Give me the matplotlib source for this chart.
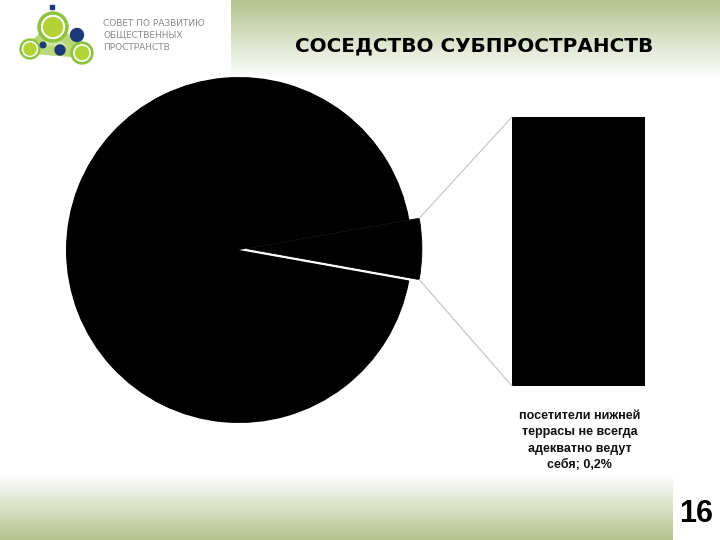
import numpy as np
import matplotlib
matplotlib.use("Agg")
import matplotlib.pyplot as plt
from matplotlib.patches import Circle, Rectangle, ConnectionPatch, Polygon

# ---- data ----
pie_labels = ["остальное", "прочее"]
pie_values = [94.4, 5.6]
bar_labels = ["посетители нижней\nтеррасы не всегда\nадекватно ведут\nсебя"]
bar_values = [5.6]
bar_pct = ["0,2%"]
title = "СОСЕДСТВО СУБПРОСТРАНСТВ"
logo_lines = ["СОВЕТ ПО РАЗВИТИЮ", "ОБЩЕСТВЕННЫХ", "ПРОСТРАНСТВ"]
page_no = "16"

W, H = 720, 540
fig = plt.figure(figsize=(7.2, 5.4), dpi=100)
fig.patch.set_facecolor("white")
ax = fig.add_axes([0, 0, 1, 1])
ax.set_axis_off()

green = np.array([179, 195, 142]) / 255.0
white = np.array([1.0, 1.0, 1.0])

def vgrad(top, bottom, n=200):
    t = np.linspace(0, 1, n)[:, None, None]
    return top[None, None, :] * (1 - t) + bottom[None, None, :] * t

# top band (gradient green -> white), y-up coordinates
ax.imshow(vgrad(green, white), extent=[231, W, H - 78, H], aspect="auto",
          interpolation="bilinear", zorder=0)
# bottom band (white -> green)
ax.imshow(vgrad(white, green), extent=[0, 673, 0, 66], aspect="auto",
          interpolation="bilinear", zorder=0)

def yd(y):  # convert y from top-down to y-up
    return H - y

# ---- logo ----
band = "#d3e5a8"
pts = [(53, 27), (30, 49), (82, 53)]
ax.add_patch(Polygon([(x, yd(y)) for x, y in pts], closed=True, color=band, zorder=2))
for (x1, y1), (x2, y2) in [(pts[0], pts[1]), (pts[0], pts[2]), (pts[1], pts[2])]:
    ax.plot([x1, x2], [yd(y1), yd(y2)], color="#bcd97a", lw=7, solid_capstyle="round", zorder=2)
for (cx, cy), ro, rw, ri in [((53, 27), 15, 11.5, 9.5), ((30, 49), 10, 7.5, 6),
                              ((82, 53), 11, 8.2, 6.6)]:
    ax.add_patch(Circle((cx, yd(cy)), ro, color="#8cc43f", zorder=3))
    ax.add_patch(Circle((cx, yd(cy)), rw, color="white", zorder=3))
    ax.add_patch(Circle((cx, yd(cy)), ri, color="#b2d235", zorder=3))
navy = "#1d3a78"
for (cx, cy), r in [((77, 35), 6.5), ((60, 50), 5), ((43, 45), 2.8)]:
    ax.add_patch(Circle((cx, yd(cy)), r, color=navy, zorder=3))
ax.add_patch(Rectangle((50, yd(9)), 4, 4, color=navy, zorder=3))
for i, line in enumerate(logo_lines):
    ax.text(103, yd(23 + 12 * i), line, fontsize=6.5, color="#8a8a8a",
            family="DejaVu Sans", va="center", ha="left", zorder=3)

# ---- title ----
ax.text(474, yd(46), title, fontsize=14.4, fontweight="bold", color="black",
        family="DejaVu Sans", ha="center", va="center", zorder=3)

# ---- page number ----
ax.text(696, yd(514), page_no, fontsize=22, fontweight="bold", color="black",
        family="Liberation Sans", ha="center", va="center", zorder=3)

# ---- pie ----
cx, cy, R = 239, yd(250), 173
wedges, _ = ax.pie(pie_values, colors=["black", "black"], startangle=10,
                   counterclock=True, center=(cx, cy), radius=R,
                   wedgeprops=dict(linewidth=0))
d, phi = 8, np.deg2rad(9.5)
small = wedges[1]
small.set_center((cx + d * np.cos(phi), cy + d * np.sin(phi)))
small.set_radius(R + 2)
small.set_edgecolor("black")
small.set_linewidth(0.6)
for w in wedges:
    w.set_zorder(4)

ax.set_xlim(0, W)
ax.set_ylim(0, H)
ax.set_aspect("auto")

# ---- bar of pie ----
axb = fig.add_axes([512 / W, (H - 386) / H, 133 / W, 269 / H])
bottom = 0
for v in bar_values:
    axb.bar([0], [v], bottom=bottom, width=1.0, color="black", linewidth=0)
    bottom += v
axb.set_xlim(-0.5, 0.5)
axb.set_ylim(0, sum(bar_values))
axb.set_axis_off()

axb.annotate(bar_labels[0] + "; " + bar_pct[0], xy=(0, 0), xycoords="data",
             xytext=(1, -17), textcoords="offset points", ha="center", va="top",
             fontsize=9, fontweight="bold", linespacing=1.5,
             family=["Liberation Sans Narrow", "Liberation Sans"], color="#111111",
             annotation_clip=False)

# connectors from exploded wedge corners to bar corners
scx, scy = small.center
for th, by in [(small.theta2, sum(bar_values)), (small.theta1, 0)]:
    px = scx + small.r * np.cos(np.deg2rad(th))
    py = scy + small.r * np.sin(np.deg2rad(th))
    con = ConnectionPatch(xyA=(px, py), coordsA=ax.transData,
                          xyB=(-0.5, by), coordsB=axb.transData,
                          color="#c8c8c8", lw=0.9, zorder=1)
    fig.add_artist(con)

fig.savefig("out.png", dpi=100, facecolor="white")
